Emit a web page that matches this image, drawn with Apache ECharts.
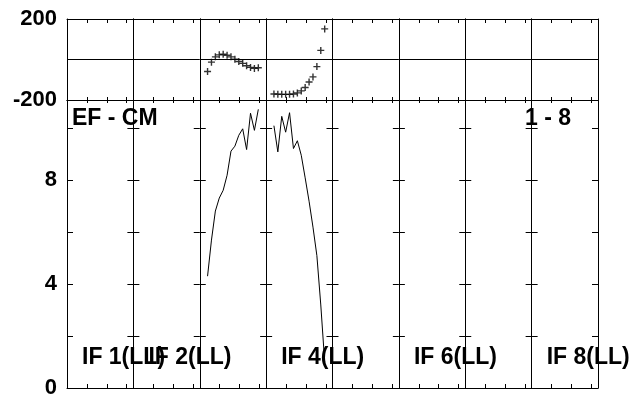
<!DOCTYPE html>
<html>
<head>
<meta charset="utf-8">
<script src="https://cdn.jsdelivr.net/npm/echarts@6/dist/echarts.min.js"></script>
<style>html,body{margin:0;padding:0;background:#fff}#c{width:640px;height:396px}</style>
</head>
<body>
<div id="c"></div>
<script>
// ---- data ----
const ifLabels = ['IF 1(LL)', 'IF 2(LL)', '', 'IF 4(LL)', '', 'IF 6(LL)', '', 'IF 8(LL)'];
const channels = [2, 3, 4, 5, 6, 7, 8, 9, 10, 11, 12, 13, 14, 15];
const ampIF3 = [4.31, 5.70, 6.82, 7.32, 7.62, 8.20, 9.13, 9.32, 9.74, 9.99, 9.19, 10.59, 9.93, 10.74];
const ampIF4 = [10.11, 9.10, 10.47, 9.86, 10.61, 9.23, 9.53, 8.97, 8.10, 7.20, 6.20, 5.10, 3.20, 1.00];
const phaseIF3 = [-59, -13, 13, 23, 26, 21, 13, 1, -10, -19, -31, -39, -44, -41];
const phaseIF4 = [-170, -171, -172, -172, -172, -170, -165, -155, -138, -111, -86, -35, 45, 151];
const phaseTickLabels = [200, -200];
const ampTickLabels = [0, 4, 8];
const panelTitleLeft = 'EF - CM';
const panelTitleRight = '1 - 8';

// ---- layout ----
const L = 67, R = 598, NIF = 8, W = (R - L) / NIF;
const TOP1 = 19, H1 = 81, TOP2 = 100, H2 = 288;
const FONT = '"Liberation Sans", Arial, sans-serif';
const black = '#000';

const grids = [], xAxes = [], yAxes = [], series = [], graphics = [];

function xAx(g, pos, tickLen) {
  xAxes.push({
    gridIndex: g, type: 'value', position: pos, min: 0, max: 17, interval: 5.1,
    axisLine: { show: true, onZero: false, lineStyle: { color: black, width: 1 } },
    axisTick: { show: true, inside: true, length: tickLen, lineStyle: { color: black, width: 1 } },
    axisLabel: { show: false }, splitLine: { show: false }
  });
  return xAxes.length - 1;
}
function yAx(g, pos, o) {
  yAxes.push(Object.assign({
    gridIndex: g, type: 'value', position: pos,
    axisLine: { show: true, onZero: false, lineStyle: { color: black, width: 1 } }
  }, o));
  return yAxes.length - 1;
}
function grid(left, top, height) {
  grids.push({ left: left, width: W, top: top, height: height, containLabel: false, outerBoundsMode: 'none' });
  return grids.length - 1;
}

const ampData = { 2: ampIF3, 3: ampIF4 };
const phaseData = { 2: phaseIF3, 3: phaseIF4 };
const labelStyle = { color: black, fontFamily: FONT, fontWeight: 'bold', fontSize: 22, padding: [4, 0, 0, 0] };

for (let i = 0; i < NIF; i++) {
  const left = L + i * W;
  // top (phase) panel
  const gTop = grid(left, TOP1, H1);
  xAx(gTop, 'top', 4);
  const xt = xAx(gTop, 'bottom', 3);
  const ytl = yAx(gTop, 'left', {
    min: -200, max: 200, interval: 200,
    axisTick: { show: false },
    axisLabel: Object.assign({
      show: i === 0, margin: 10,
      formatter: v => (phaseTickLabels.indexOf(v) >= 0 ? String(v) : '')
    }, labelStyle),
    splitLine: { show: true, lineStyle: { color: black, width: 1 } }
  });
  yAx(gTop, 'right', { min: -200, max: 200, interval: 200, axisTick: { show: false }, axisLabel: { show: false }, splitLine: { show: false } });

  // bottom (amplitude) panel
  const gBot = grid(left, TOP2, H2);
  xAx(gBot, 'top', 3);
  const xb = xAx(gBot, 'bottom', 4);
  const ybl = yAx(gBot, 'left', {
    min: 0, max: 11.1, interval: 2,
    axisTick: { show: true, inside: true, length: 6, lineStyle: { color: black, width: 1 } },
    axisLabel: Object.assign({
      show: i === 0, margin: 10,
      formatter: v => (ampTickLabels.indexOf(v) >= 0 ? String(v) : '')
    }, labelStyle),
    splitLine: { show: false }
  });
  yAx(gBot, 'right', {
    min: 0, max: 11.1, interval: 2,
    axisTick: { show: true, inside: true, length: 6, lineStyle: { color: black, width: 1 } },
    axisLabel: { show: false }, splitLine: { show: false }
  });

  if (ampData[i]) {
    series.push({
      type: 'line', xAxisIndex: xb, yAxisIndex: ybl, showSymbol: false, symbol: 'none',
      lineStyle: { color: black, width: 1 }, data: channels.map((c, j) => [c, ampData[i][j]])
    });
  }
  if (phaseData[i]) {
    series.push({
      type: 'scatter', xAxisIndex: xt, yAxisIndex: ytl,
      symbol: 'path://M0,5 L10,5 M5,0 L5,10', symbolSize: 7,
      itemStyle: { color: 'none', borderColor: black, borderWidth: 1.4 },
      data: channels.map((c, j) => [c, phaseData[i][j]])
    });
  }
  if (ifLabels[i]) {
    graphics.push({
      type: 'text', z: 100,
      style: { x: left + 15, y: 358, text: ifLabels[i], fill: black, font: 'bold 23px ' + FONT, verticalAlign: 'middle', align: 'left' }
    });
  }
}
graphics.push({ type: 'text', z: 100, style: { x: 72, y: 118.5, text: panelTitleLeft, fill: black, font: 'bold 23px ' + FONT, verticalAlign: 'middle', align: 'left' } });
graphics.push({ type: 'text', z: 100, style: { x: 525, y: 118.5, text: panelTitleRight, fill: black, font: 'bold 23px ' + FONT, verticalAlign: 'middle', align: 'left' } });

const chart = echarts.init(document.getElementById('c'), null, { renderer: 'canvas' });
chart.setOption({
  animation: false,
  backgroundColor: '#fff',
  grid: grids, xAxis: xAxes, yAxis: yAxes, series: series, graphic: graphics
});
</script>
</body>
</html>
